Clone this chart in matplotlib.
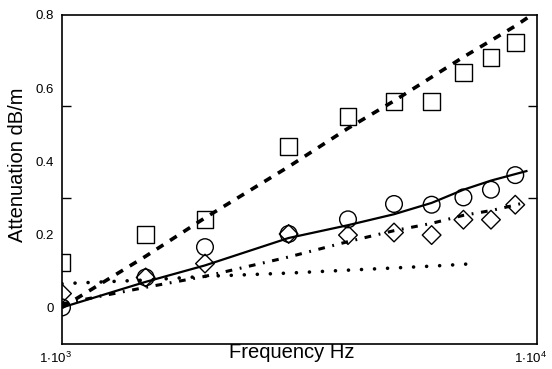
import matplotlib
matplotlib.use("Agg")
import matplotlib.pyplot as plt
import matplotlib.transforms as mtransforms

plt.rcParams['font.family'] = ['Liberation Sans', 'DejaVu Sans']
plt.rcParams['mathtext.fontset'] = 'custom'
plt.rcParams['mathtext.rm'] = 'Liberation Sans'
plt.rcParams['mathtext.default'] = 'regular'

# measured points
freq = [1000, 1500, 2000, 3000, 4000, 5000, 6000, 7000, 8000, 9000]
squares = [0.123, 0.199, 0.240, 0.441, 0.522, 0.563, 0.563, 0.643, 0.684, 0.725]
circles = [0.0, 0.082, 0.165, 0.201, 0.241, 0.283, 0.281, 0.301, 0.322, 0.362]
diamonds = [0.038, 0.082, 0.120, 0.201, 0.198, 0.205, 0.198, 0.240, 0.240, 0.281]

# model curves
f_dash = [1000, 1500, 2000, 3000, 4000, 5000, 6000, 7000, 8000, 9000, 10000]
a_dash = [0.0, 0.14, 0.245, 0.385, 0.49, 0.565, 0.63, 0.685, 0.73, 0.77, 0.81]
f_solid = [1000, 1500, 2000, 3000, 4000, 5000, 6000, 7000, 8000, 9500]
a_solid = [0.0, 0.07, 0.115, 0.19, 0.225, 0.255, 0.286, 0.322, 0.347, 0.373]
f_dashdot = [1000, 1500, 2000, 3000, 4000, 5000, 6000, 7000, 8000, 9000, 9300]
a_dashdot = [0.01, 0.055, 0.085, 0.138, 0.18, 0.21, 0.23, 0.252, 0.265, 0.28, 0.285]
f_dot = [1000, 1500, 2000, 3000, 4000, 5000, 6000, 7000, 7500]
a_dot = [0.065, 0.075, 0.085, 0.094, 0.102, 0.108, 0.113, 0.118, 0.121]

yticks = [0, 0.2, 0.4, 0.6, 0.8]
ylabels = ['0', '0.2', '0.4', '0.6', '0.8']
ymarks = [0.0, 0.3, 0.55]

fig = plt.figure(figsize=(5.52, 3.69), dpi=100)
ax = fig.add_axes([62 / 552, 1 - 344 / 369, 475 / 552, 329 / 369])
ax.set_xscale('log')
ax.set_xlim(1000, 10000)
ax.set_ylim(-0.1, 0.8)

ax.scatter(freq, squares, marker='s', s=12 ** 2, facecolors='none', edgecolors='black',
           linewidths=1.0, clip_on=True)
ax.scatter(freq, circles, marker='o', s=12 ** 2, facecolors='none', edgecolors='black',
           linewidths=1.0, clip_on=True)
ax.scatter(freq, diamonds, marker='D', s=9.5 ** 2, facecolors='none', edgecolors='black',
           linewidths=1.0, clip_on=True)

ax.plot(f_dash, a_dash, color='black', lw=2.6, dashes=(2.2, 2.2))
ax.plot(f_solid, a_solid, color='black', lw=1.6)
ax.plot(f_dashdot, a_dashdot, color='black', lw=2.2, dashes=(2.2, 2.5, 0.6, 2.5))
ax.plot(f_dot, a_dot, color='black', lw=2.6, dashes=(0.01, 3.6), dash_capstyle='round')

for s in ax.spines.values():
    s.set_linewidth(1.2)

ax.set_yticks(yticks)
ax.set_yticklabels(ylabels, fontsize=9.5)
ax.tick_params(axis='y', which='major', length=0, pad=6)
ax.set_yticks(ymarks, minor=True)
ax.tick_params(axis='y', which='minor', length=6.5, width=1.0, direction='in',
               left=True, right=True)

ax.set_xticks([1000, 10000])
ax.set_xticklabels([r'1$\cdot$10$^3$', r'1$\cdot$10$^4$'], fontsize=9.5)
ax.xaxis.set_minor_locator(matplotlib.ticker.NullLocator())
ax.tick_params(axis='x', which='major', length=0, pad=5)
shift = mtransforms.ScaledTranslation(-7 / 100, 0, fig.dpi_scale_trans)
for lab in ax.get_xticklabels():
    lab.set_transform(lab.get_transform() + shift)

fig.text(292 / 552, 1 - 352 / 369, 'Frequency Hz', fontsize=14.5, ha='center', va='center')
fig.text(18 / 552, 1 - 165 / 369, 'Attenuation dB/m', fontsize=14.5, rotation=90,
         ha='center', va='center')

fig.savefig('out.png', dpi=100)
